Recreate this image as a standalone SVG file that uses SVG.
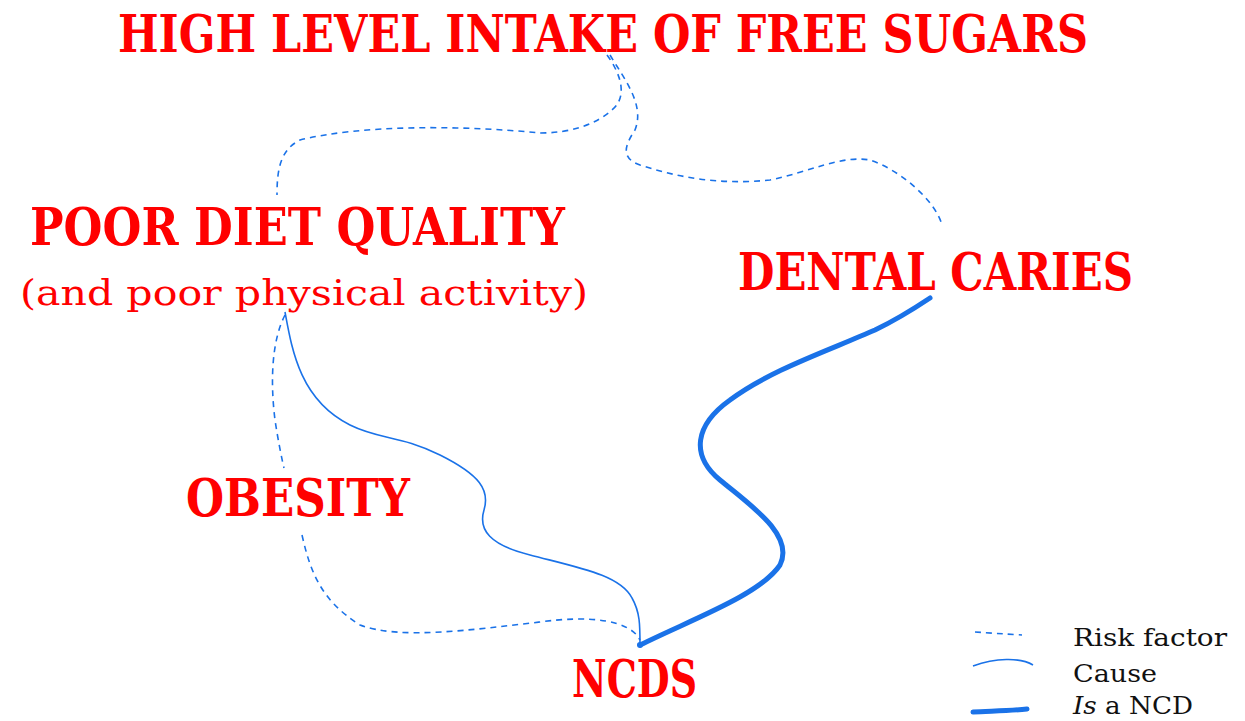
<svg xmlns="http://www.w3.org/2000/svg" width="1245" height="721" viewBox="0 0 1245 721">
<style>
.title{font-family:"DejaVu Serif",serif;font-weight:bold;fill:#ff0000;}
.sub{font-family:"DejaVu Serif","Liberation Serif",serif;fill:#ff0000;}
.leg{font-family:"DejaVu Serif","Liberation Serif",serif;fill:#111;font-size:25px;}
.risk{fill:none;stroke:#1a72e8;stroke-width:1.6;stroke-dasharray:6 5;}
.cause{fill:none;stroke:#1a72e8;stroke-width:1.6;}
.ncd{fill:none;stroke:#1a72e8;stroke-width:5;stroke-linecap:round;}
</style>
<rect width="1245" height="721" fill="#fff"/>
<g id="connectors">
<path class="risk" d="M607,55 C618,70 630,95 612,110 C595,125 570,133 540,133 C460,125 360,125 300,140 C280,150 277,170 277,195"/>
<path class="risk" d="M610,55 C625,80 645,105 635,130 C625,145 620,158 640,165 C680,178 720,185 770,180 C810,172 840,155 870,160 C900,170 935,200 942,225"/>
<path class="risk" d="M285,315 C272,340 270,380 275,420 C278,440 282,460 284,468"/>
<path class="risk" d="M302,535 C310,570 320,600 360,625 C400,640 470,630 540,622 C590,615 630,620 640,640"/>
<path class="cause" d="M285,312 C292,350 300,400 350,425 C380,440 400,435 440,455 C480,475 490,490 484,510 C478,530 490,545 530,555 C580,568 620,575 632,598 C640,612 640,625 640,645"/>
<path class="ncd" d="M640,645 C690,620 760,595 780,565 C795,535 750,505 720,480 C690,455 695,425 730,400 C770,370 830,350 875,330 C900,318 915,308 930,298"/>
<circle cx="640" cy="645" r="3" fill="#1a72e8"/>
</g>
<g id="sugars"><text class="title" x="118" y="52" font-size="52" textLength="970" lengthAdjust="spacingAndGlyphs">HIGH LEVEL INTAKE OF FREE SUGARS</text></g>
<g id="diet">
<text class="title" x="30" y="245" font-size="52" textLength="535" lengthAdjust="spacingAndGlyphs">POOR DIET QUALITY</text>
<text class="sub" x="20" y="305" font-size="36" textLength="568" lengthAdjust="spacingAndGlyphs">(and poor physical activity)</text>
</g>
<g id="caries"><text class="title" x="738" y="290" font-size="52" textLength="395" lengthAdjust="spacingAndGlyphs">DENTAL CARIES</text></g>
<g id="obesity"><text class="title" x="186" y="516" font-size="52" textLength="224" lengthAdjust="spacingAndGlyphs">OBESITY</text></g>
<g id="ncds"><text class="title" x="572" y="697" font-size="52" textLength="125" lengthAdjust="spacingAndGlyphs">NCDS</text></g>
<g id="legend">
<path class="risk" d="M975,632 C990,633 1005,634 1022,635"/>
<path class="cause" d="M973,666 C995,658 1020,657 1033,665"/>
<path class="ncd" d="M973,712 C990,711 1010,711 1027,709" stroke-linecap="butt"/>
<text class="leg" x="1073" y="646" textLength="154" lengthAdjust="spacingAndGlyphs">Risk factor</text>
<text class="leg" x="1073" y="682" textLength="84" lengthAdjust="spacingAndGlyphs">Cause</text>
<text class="leg" x="1073" y="714" textLength="120" lengthAdjust="spacingAndGlyphs"><tspan font-style="italic">Is</tspan> a NCD</text>
</g>
</svg>
